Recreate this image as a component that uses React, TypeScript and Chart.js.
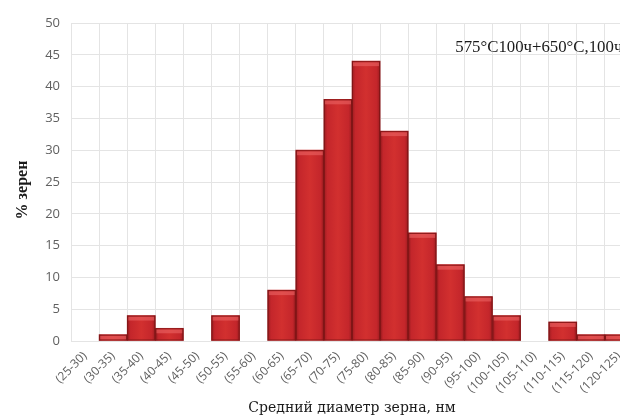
import React, { useEffect, useRef } from "react";
import { Chart, registerables } from "chart.js";

Chart.register(...registerables);

const categories = [
  "(25-30)", "(30-35)", "(35-40)", "(40-45)", "(45-50)", "(50-55)", "(55-60)",
  "(60-65)", "(65-70)", "(70-75)", "(75-80)", "(80-85)", "(85-90)", "(90-95)",
  "(95-100)", "(100-105)", "(105-110)", "(110-115)", "(115-120)", "(120-125)",
];
const percentGrains = [0, 1, 4, 2, 0, 4, 0, 8, 30, 38, 44, 33, 17, 12, 7, 4, 0, 3, 1, 1];
const annotationText = "575°C100ч+650°C,100ч";
const yTitle = "% зерен";
const xTitle = "Средний диаметр зерна, нм";

export default function App() {
  const ref = useRef<HTMLCanvasElement | null>(null);

  useEffect(() => {
    document.body.style.margin = "0";
    document.body.style.overflow = "hidden";
    const canvas = ref.current!;

    const bevelPlugin = {
      id: "bevel",
      afterDatasetsDraw(chart: any) {
        const ctx = chart.ctx;
        const meta = chart.getDatasetMeta(0);
        ctx.save();
        meta.data.forEach((bar: any, i: number) => {
          if (!percentGrains[i]) return;
          const left = bar.x - bar.width / 2;
          const top = bar.y;
          const h = Math.min(4, bar.base - bar.y);
          ctx.fillStyle = "rgba(235,100,100,0.6)";
          ctx.fillRect(left + 1, top + 1, bar.width - 2, h);
          ctx.strokeStyle = "rgba(120,20,20,0.8)";
          ctx.lineWidth = 1;
          ctx.strokeRect(left + 0.5, top + 0.5, bar.width - 1, bar.base - top - 1);
        });
        ctx.restore();
      },
    };

    const annotationPlugin = {
      id: "annot",
      afterDraw(chart: any) {
        const ctx = chart.ctx;
        const xs = chart.scales.x;
        const ys = chart.scales.y;
        ctx.save();
        ctx.fillStyle = "#1a1a1a";
        ctx.font = "16.8px 'Liberation Serif'";
        ctx.textBaseline = "middle";
        ctx.textAlign = "left";
        const x = xs.getPixelForValue(13) - xs.width / categories.length / 2 + 19;
        ctx.fillText(annotationText, x, ys.getPixelForValue(46.2));
        ctx.restore();
      },
    };

    const chart = new Chart(canvas, {
      type: "bar",
      data: {
        labels: categories,
        datasets: [
          {
            data: percentGrains.map((v) => (v === 0 ? null : v)),
            backgroundColor: (c: any) => {
              const ch = c.chart;
              const xs = ch.scales.x;
              if (!xs || !ch.chartArea) return "#c8282d";
              const w = xs.width / categories.length;
              const cx = xs.getPixelForValue(c.dataIndex);
              const g = ch.ctx.createLinearGradient(cx - w / 2, 0, cx + w / 2, 0);
              g.addColorStop(0, "#9c1c20");
              g.addColorStop(0.12, "#c4262b");
              g.addColorStop(0.5, "#d2302f");
              g.addColorStop(0.88, "#c4262b");
              g.addColorStop(1, "#9c1c20");
              return g;
            },
            borderWidth: 0,
            barPercentage: 1,
            categoryPercentage: 1,
          },
        ],
      },
      options: {
        responsive: false,
        animation: false,
        layout: { padding: { top: 23, right: 7, bottom: 0, left: 0 } },
        plugins: { legend: { display: false }, tooltip: { enabled: false } },
        scales: {
          x: {
            offset: true,
            grid: { color: "#e4e4e4", offset: true, drawTicks: false },
            border: { display: false },
            ticks: {
              minRotation: 45,
              maxRotation: 45,
              autoSkip: false,
              color: "#606060",
              padding: 8,
              font: { family: "'Open Sans'", size: 12 },
            },
            title: {
              display: true,
              text: xTitle,
              color: "#1a1a1a",
              font: { family: "'DejaVu Serif'", size: 14 },
              padding: { top: 0, bottom: 2 },
            },
            afterFit: (s: any) => {
              s.height = 78;
            },
          },
          y: {
            min: 0,
            max: 50,
            ticks: {
              stepSize: 5,
              color: "#606060",
              padding: 11,
              font: { family: "'Open Sans'", size: 13 },
            },
            grid: { color: "#e4e4e4", drawTicks: false },
            border: { display: false },
            title: {
              display: true,
              text: yTitle + "\u00a0\u00a0\u00a0\u00a0",
              color: "#1a1a1a",
              font: { family: "'Liberation Serif'", size: 16, weight: "bold" },
              padding: { top: 13, bottom: 0 },
            },
            afterFit: (s: any) => {
              s.width = 71;
            },
          },
        },
      },
      plugins: [bevelPlugin, annotationPlugin],
    } as any);

    return () => chart.destroy();
  }, []);

  return (
    <div style={{ width: 620, height: 419, overflow: "hidden", position: "relative", background: "#fff" }}>
      <canvas ref={ref} width={640} height={419} style={{ display: "block" }} />
    </div>
  );
}
